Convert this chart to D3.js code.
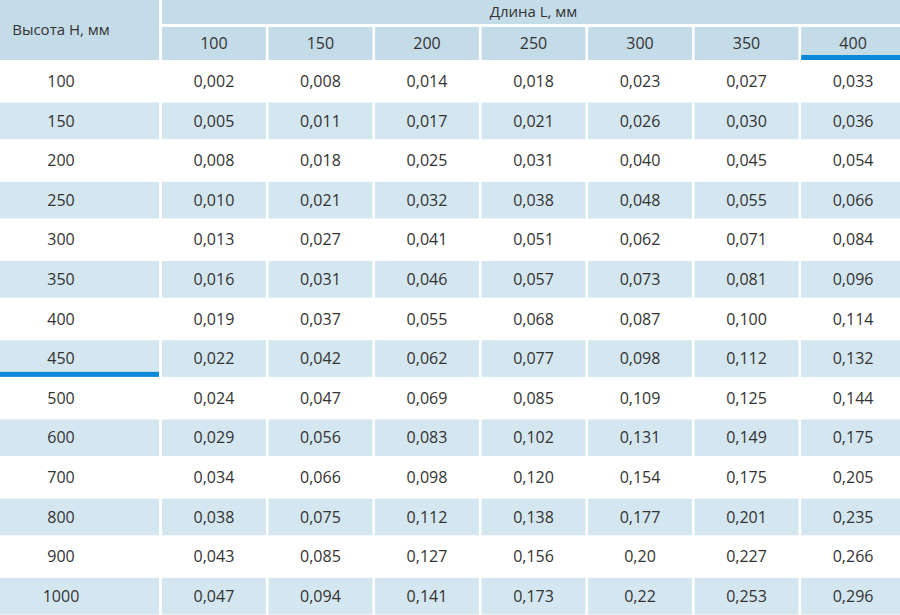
<!DOCTYPE html>
<html lang="ru">
<head>
  <meta charset="UTF-8">
  <title>Высота H / Длина L</title>
  <script src="https://d3js.org/d3.v7.min.js"></script>
  <style>
    body { margin: 0; background: #fff; }
    svg { display: block; font-family: "Open Sans", "Noto Sans", sans-serif; }
  </style>
</head>
<body>
  <div id="chart"></div>
  <script>
    // column headers (length L, mm) and row headers (height H, mm)
    const lengths = ["100", "150", "200", "250", "300", "350", "400"];
    const heights = ["100", "150", "200", "250", "300", "350", "400", "450", "500", "600", "700", "800", "900", "1000"];

    const rowHeaderTitle = "Высота Н, мм";
    const colHeaderTitle = "Длина L, мм";
    const markedLength = "400";
    const markedHeight = "450";

    // values per row, as printed
    const values = [
      ["0,002", "0,008", "0,014", "0,018", "0,023", "0,027", "0,033"],
      ["0,005", "0,011", "0,017", "0,021", "0,026", "0,030", "0,036"],
      ["0,008", "0,018", "0,025", "0,031", "0,040", "0,045", "0,054"],
      ["0,010", "0,021", "0,032", "0,038", "0,048", "0,055", "0,066"],
      ["0,013", "0,027", "0,041", "0,051", "0,062", "0,071", "0,084"],
      ["0,016", "0,031", "0,046", "0,057", "0,073", "0,081", "0,096"],
      ["0,019", "0,037", "0,055", "0,068", "0,087", "0,100", "0,114"],
      ["0,022", "0,042", "0,062", "0,077", "0,098", "0,112", "0,132"],
      ["0,024", "0,047", "0,069", "0,085", "0,109", "0,125", "0,144"],
      ["0,029", "0,056", "0,083", "0,102", "0,131", "0,149", "0,175"],
      ["0,034", "0,066", "0,098", "0,120", "0,154", "0,175", "0,205"],
      ["0,038", "0,075", "0,112", "0,138", "0,177", "0,201", "0,235"],
      ["0,043", "0,085", "0,127", "0,156", "0,20", "0,227", "0,266"],
      ["0,047", "0,094", "0,141", "0,173", "0,22", "0,253", "0,296"]
    ];

    const width = 900, height = 615;
    const headBlue = "#c4dbe8", stripeBlue = "#d4e6f0", accent = "#0a8ad8", ink = "#333";
    const firstColW = 159, firstColCenter = 61;

    const svg = d3.select("#chart").append("svg")
      .attr("width", width)
      .attr("height", height);

    const x = d3.scaleBand()
      .domain(lengths)
      .range([162, 905])
      .paddingInner(0.025);

    const y = d3.scaleBand()
      .domain(heights)
      .range([63, 614.5])
      .paddingInner(0.075);

    // header
    svg.append("rect")
      .attr("x", 0).attr("y", 0)
      .attr("width", firstColW).attr("height", 60)
      .attr("fill", headBlue);
    svg.append("text")
      .attr("x", firstColCenter).attr("y", 30)
      .attr("dy", "0.35em")
      .attr("text-anchor", "middle")
      .attr("font-size", 15)
      .attr("fill", ink)
      .text(rowHeaderTitle);

    svg.append("rect")
      .attr("x", x.range()[0]).attr("y", 0)
      .attr("width", x.range()[1] - x.range()[0]).attr("height", 24)
      .attr("fill", headBlue);
    svg.append("text")
      .attr("x", (x.range()[0] + x.range()[1]) / 2).attr("y", 12)
      .attr("dy", "0.35em")
      .attr("text-anchor", "middle")
      .attr("font-size", 15)
      .attr("fill", ink)
      .text(colHeaderTitle);

    const colHead = svg.append("g").selectAll("g")
      .data(lengths)
      .join("g");
    colHead.append("rect")
      .attr("x", d => x(d)).attr("y", 27)
      .attr("width", x.bandwidth()).attr("height", 33)
      .attr("fill", headBlue);
    colHead.append("text")
      .attr("x", d => x(d) + x.bandwidth() / 2).attr("y", 43.5)
      .attr("dy", "0.35em")
      .attr("text-anchor", "middle")
      .attr("font-size", 16)
      .attr("fill", ink)
      .text(d => d);
    colHead.filter(d => d === markedLength).append("rect")
      .attr("x", d => x(d)).attr("y", 55)
      .attr("width", x.bandwidth()).attr("height", 5)
      .attr("fill", accent);

    // body rows
    const rows = svg.append("g").selectAll("g")
      .data(heights.map((h, i) => ({ h, i, vals: values[i] })))
      .join("g");

    rows.filter(d => d.i % 2 === 1).append("rect")
      .attr("x", 0).attr("y", d => y(d.h))
      .attr("width", firstColW).attr("height", y.bandwidth())
      .attr("fill", stripeBlue);
    rows.filter(d => d.i % 2 === 1).selectAll("rect.cell")
      .data(d => lengths.map(l => ({ h: d.h, l })))
      .join("rect")
      .attr("class", "cell")
      .attr("x", d => x(d.l)).attr("y", d => y(d.h))
      .attr("width", x.bandwidth()).attr("height", y.bandwidth())
      .attr("fill", stripeBlue);

    rows.filter(d => d.h === markedHeight).append("rect")
      .attr("x", 0).attr("y", d => y(d.h) + y.bandwidth() - 5)
      .attr("width", firstColW).attr("height", 5)
      .attr("fill", accent);

    rows.append("text")
      .attr("x", firstColCenter).attr("y", d => y(d.h) + y.bandwidth() / 2)
      .attr("dy", "0.35em")
      .attr("text-anchor", "middle")
      .attr("font-size", 16)
      .attr("fill", ink)
      .text(d => d.h);

    rows.selectAll("text.val")
      .data(d => d.vals.map((v, j) => ({ h: d.h, l: lengths[j], v })))
      .join("text")
      .attr("class", "val")
      .attr("x", d => x(d.l) + x.bandwidth() / 2)
      .attr("y", d => y(d.h) + y.bandwidth() / 2)
      .attr("dy", "0.35em")
      .attr("text-anchor", "middle")
      .attr("font-size", 16)
      .attr("fill", ink)
      .text(d => d.v);
  </script>
</body>
</html>
